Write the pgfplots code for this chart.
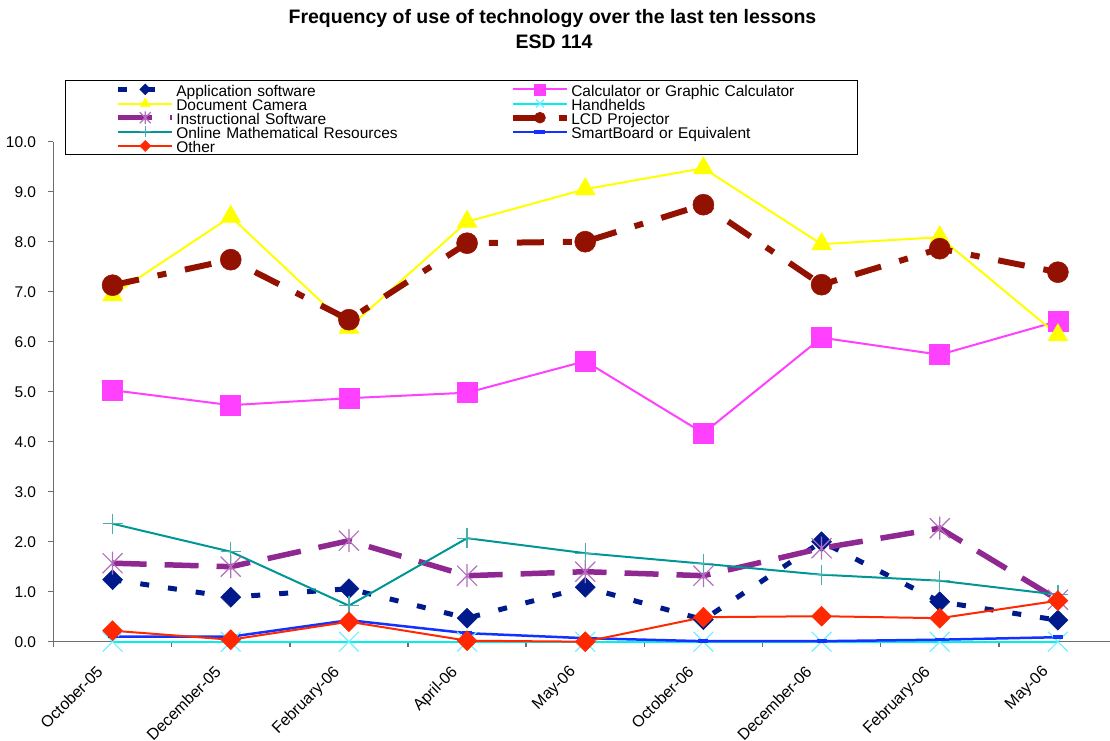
\documentclass[border=0pt]{standalone}
\usepackage{fontspec}
\setmainfont{Liberation Sans}
\usepackage{pgfplots}
\pgfplotsset{compat=1.18}
\definecolor{capp}{RGB}{0,26,140}
\definecolor{ccalc}{RGB}{255,64,255}
\definecolor{cdoc}{RGB}{255,255,0}
\definecolor{chand}{RGB}{0,240,240}
\definecolor{chandm}{RGB}{110,240,255}
\definecolor{cinst}{RGB}{143,40,145}
\definecolor{cinstm}{RGB}{180,110,190}
\definecolor{clcd}{RGB}{147,17,0}
\definecolor{conl}{RGB}{0,150,150}
\definecolor{conlm}{RGB}{70,175,175}
\definecolor{csmart}{RGB}{20,50,255}
\definecolor{coth}{RGB}{255,40,0}
\definecolor{caxis}{RGB}{110,110,110}
\pgfdeclareplotmark{xstar}{%
  \pgfpathmoveto{\pgfqpoint{-\pgfplotmarksize}{-\pgfplotmarksize}}%
  \pgfpathlineto{\pgfqpoint{\pgfplotmarksize}{\pgfplotmarksize}}%
  \pgfpathmoveto{\pgfqpoint{-\pgfplotmarksize}{\pgfplotmarksize}}%
  \pgfpathlineto{\pgfqpoint{\pgfplotmarksize}{-\pgfplotmarksize}}%
  \pgfpathmoveto{\pgfqpoint{0pt}{-1.15\pgfplotmarksize}}%
  \pgfpathlineto{\pgfqpoint{0pt}{1.15\pgfplotmarksize}}%
  \pgfusepathqstroke}
\pgfdeclareplotmark{sqdiamond*}{%
  \pgfpathmoveto{\pgfqpoint{0pt}{\pgfplotmarksize}}%
  \pgfpathlineto{\pgfqpoint{\pgfplotmarksize}{0pt}}%
  \pgfpathlineto{\pgfqpoint{0pt}{-\pgfplotmarksize}}%
  \pgfpathlineto{\pgfqpoint{-\pgfplotmarksize}{0pt}}%
  \pgfpathclose
  \pgfusepathqfillstroke}
\begin{document}
\begin{tikzpicture}
\path[use as bounding box] (0,0) rectangle (555pt,370pt);
\node[anchor=base, font=\fontsize{9.75}{11}\selectfont\bfseries, inner sep=0pt] at (276.25pt,358pt) {Frequency of use of technology over the last ten lessons};
\node[anchor=base, font=\fontsize{9.75}{11}\selectfont\bfseries, inner sep=0pt] at (277pt,345.5pt) {ESD 114};
\begin{axis}[
  at={(26.75pt,49.15pt)}, anchor=south west,
  scale only axis, width=531.75pt, height=250pt,
  xmin=-0.5, xmax=8.5, ymin=0, ymax=10,
  clip=false,
  axis x line*=bottom, axis y line*=left,
  axis line style={draw=caxis, line width=0.75pt},
  tick align=outside, major tick length=2.5pt,
  tick style={draw=caxis, line width=0.75pt},
  xtick={-0.5,0.5,1.5,2.5,3.5,4.5,5.5,6.5,7.5,8.5},
  x tick label as interval,
  xticklabels={October-05,December-05,February-06,April-06,May-06,October-06,December-06,February-06,May-06},
  xticklabel style={font=\fontsize{8}{10}\selectfont, xshift=-8.5pt, yshift=-8.75pt, rotate=45, anchor=north east, inner sep=0pt},
  ytick={0,1,2,3,4,5,6,7,8,9,10},
  yticklabel style={font=\fontsize{7.75}{9}\selectfont, anchor=east, inner sep=0pt, xshift=-6pt,
    /pgf/number format/.cd, fixed, fixed zerofill, precision=1, assume math mode=true},
  legend columns=2,
  legend cell align=left,
  legend image code/.code={\draw[mark repeat=2,mark phase=2,#1] plot coordinates {(0pt,0pt) (13.5pt,0pt) (27pt,0pt)};},
  legend image post style={mark size=2.75pt},
  legend style={at={(0.0111,1.1234)}, anchor=north west, draw=black, line width=0.5pt,
    inner xsep=24.85pt, inner ysep=0.9pt,
    font=\fontsize{7.75}{7.5}\selectfont,
    nodes={inner xsep=0pt, inner ysep=0pt, text height=6.95pt, text depth=0.125pt, text width=118.15pt, align=left},
    /tikz/every odd column/.append style={column sep=0.65pt},
    /tikz/every even column/.append style={column sep=48.7pt},
    row sep=0pt},
]
% Application software
\addplot[capp, line width=2.5pt, dash pattern=on 4.5pt off 9.5pt, mark=sqdiamond*, mark size=5pt,
  mark options={solid, fill=capp, draw=capp, line width=0.25pt}]
  coordinates {(0,1.24) (1,0.89) (2,1.06) (3,0.47) (4,1.09) (5,0.44) (6,2.00) (7,0.80) (8,0.43)};
\addlegendentry{Application software}
% Calculator
\addplot[ccalc, line width=1pt, mark=square*, mark size=5pt,
  mark options={solid, fill=ccalc, draw=ccalc, line width=0.25pt}]
  coordinates {(0,5.03) (1,4.73) (2,4.87) (3,4.98) (4,5.61) (5,4.17) (6,6.08) (7,5.74) (8,6.41)};
\addlegendentry{Calculator or Graphic Calculator}
% Document Camera
\addplot[cdoc, line width=1pt, mark=triangle*, mark size=5.75pt,
  mark options={solid, fill=cdoc, draw=cdoc, line width=0.25pt}]
  coordinates {(0,6.93) (1,8.50) (2,6.28) (3,8.40) (4,9.05) (5,9.47) (6,7.95) (7,8.09) (8,6.13)};
\addlegendentry{Document Camera}
% Handhelds
\addplot[chand, line width=1pt, mark=x, mark size=7pt,
  mark options={solid, draw=chandm, line width=0.6pt}]
  coordinates {(0,0) (1,0) (2,0) (3,0) (4,0) (5,0) (6,0) (7,0) (8,0)};
\addlegendentry{Handhelds}
% Instructional Software
\addplot[cinst, line width=2.75pt, dash pattern=on 17pt off 9pt, mark=xstar, mark size=5pt,
  mark options={solid, draw=cinstm, line width=0.6pt}]
  coordinates {(0,1.57) (1,1.50) (2,2.02) (3,1.32) (4,1.40) (5,1.32) (6,1.87) (7,2.27) (8,0.84)};
\addlegendentry{Instructional Software}
% LCD Projector
\addplot[clcd, line width=3pt, dash pattern=on 13.5pt off 9.5pt on 4.5pt off 9.5pt, mark=*, mark size=5.25pt,
  mark options={solid, fill=clcd, draw=clcd, line width=0.25pt}]
  coordinates {(0,7.13) (1,7.64) (2,6.44) (3,7.97) (4,8.00) (5,8.74) (6,7.14) (7,7.86) (8,7.39)};
\addlegendentry{LCD Projector}
% Online Mathematical Resources
\addplot[conl, line width=1pt, mark=+, mark size=5pt,
  mark options={solid, draw=conlm, line width=0.6pt}]
  coordinates {(0,2.36) (1,1.80) (2,0.72) (3,2.07) (4,1.77) (5,1.56) (6,1.34) (7,1.22) (8,0.94)};
\addlegendentry{Online Mathematical Resources}
% SmartBoard
\addplot[csmart, line width=1.25pt, mark=-, mark size=2.5pt,
  mark options={solid, draw=csmart, line width=1.75pt}]
  coordinates {(0,0.10) (1,0.10) (2,0.43) (3,0.17) (4,0.07) (5,0.01) (6,0.01) (7,0.04) (8,0.09)};
\addlegendentry{SmartBoard or Equivalent}
% Other
\addplot[coth, line width=1pt, mark=sqdiamond*, mark size=5pt,
  mark options={solid, fill=coth, draw=coth, line width=0.25pt}]
  coordinates {(0,0.22) (1,0.04) (2,0.40) (3,0.02) (4,0.00) (5,0.49) (6,0.51) (7,0.47) (8,0.82)};
\addlegendentry{Other}
\end{axis}
\end{tikzpicture}
\end{document}
